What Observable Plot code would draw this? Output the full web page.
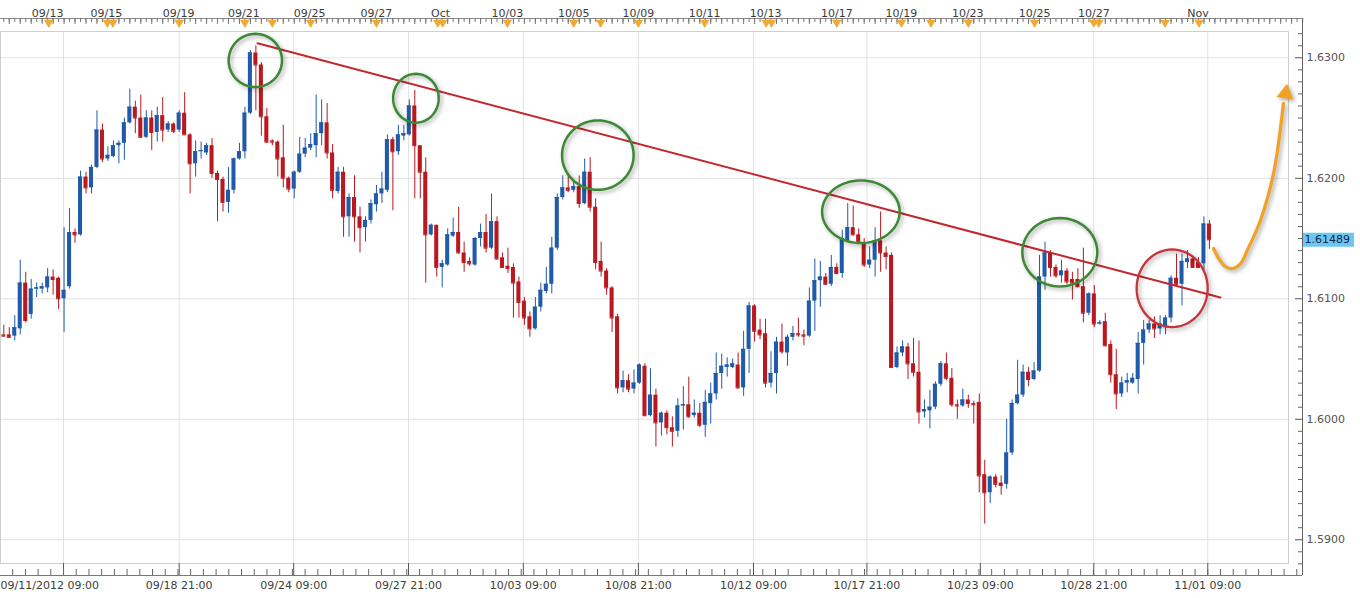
<!DOCTYPE html>
<html><head><meta charset="utf-8">
<script src="https://cdn.jsdelivr.net/npm/d3@7"></script>
<script src="https://cdn.jsdelivr.net/npm/@observablehq/plot@0.6"></script>
<style>
html,body{margin:0;padding:0;background:#fff;}
#chart svg{display:block;}
</style></head><body><div id="chart"></div>
<script>
// ---- DATA (4-hour GBP/USD candles, 09/11/2012 .. 11/01/2012) ----
const openP = [1.6070,1.6070,1.6069,1.6075,1.6113,1.6087,1.6108,1.6108,1.6109,1.6118,
1.6117,1.6100,1.6110,1.6155,1.6153,1.6201,1.6192,1.6209,1.6240,1.6216,
1.6218,1.6227,1.6229,1.6246,1.6259,1.6250,1.6234,1.6250,1.6238,1.6252,
1.6240,1.6245,1.6240,1.6254,1.6236,1.6212,1.6222,1.6221,1.6227,1.6204,
1.6199,1.6180,1.6190,1.6216,1.6222,1.6254,1.6304,1.6294,1.6251,1.6231,
1.6230,1.6217,1.6200,1.6191,1.6205,1.6220,1.6225,1.6227,1.6237,1.6246,
1.6221,1.6189,1.6205,1.6168,1.6184,1.6168,1.6159,1.6165,1.6178,1.6187,
1.6190,1.6232,1.6222,1.6235,1.6236,1.6260,1.6227,1.6205,1.6153,1.6161,
1.6126,1.6128,1.6152,1.6155,1.6138,1.6131,1.6128,1.6150,1.6155,1.6142,
1.6164,1.6134,1.6127,1.6126,1.6114,1.6098,1.6085,1.6075,1.6093,1.6106,
1.6112,1.6142,1.6184,1.6192,1.6190,1.6193,1.6179,1.6205,1.6176,1.6131,
1.6123,1.6109,1.6085,1.6026,1.6032,1.6025,1.6030,1.6044,1.6003,1.6020,
1.5997,1.6005,1.5993,1.5990,1.6011,1.6012,1.6003,1.6005,1.5995,1.6013,
1.6021,1.6038,1.6043,1.6043,1.6045,1.6026,1.6058,1.6094,1.6074,1.6071,
1.6030,1.6038,1.6064,1.6055,1.6068,1.6071,1.6070,1.6069,1.6098,1.6115,
1.6118,1.6112,1.6126,1.6121,1.6148,1.6159,1.6153,1.6146,1.6128,1.6132,
1.6148,1.6138,1.6136,1.6043,1.6055,1.6060,1.6046,1.6039,1.6006,1.6007,
1.6010,1.6029,1.6046,1.6034,1.6012,1.6011,1.6016,1.6013,1.6014,1.5954,
1.5939,1.5952,1.5947,1.5946,1.5972,1.6013,1.6020,1.6039,1.6033,1.6040,
1.6118,1.6138,1.6126,1.6119,1.6123,1.6116,1.6116,1.6110,1.6088,1.6104,
1.6079,1.6081,1.6062,1.6037,1.6021,1.6030,1.6030,1.6033,1.6063,1.6074,
1.6079,1.6075,1.6076,1.6084,1.6117,1.6112,1.6130,1.6133,1.6130,1.6129,
1.6162];
const highP = [1.6078,1.6076,1.6086,1.6132,1.6122,1.6116,1.6113,1.6113,1.6125,1.6124,
1.6118,1.6159,1.6175,1.6158,1.6206,1.6205,1.6211,1.6256,1.6245,1.6226,
1.6231,1.6231,1.6250,1.6274,1.6264,1.6269,1.6256,1.6256,1.6259,1.6267,
1.6247,1.6246,1.6256,1.6271,1.6237,1.6231,1.6230,1.6229,1.6233,1.6206,
1.6201,1.6209,1.6217,1.6229,1.6259,1.6306,1.6310,1.6296,1.6258,1.6232,
1.6231,1.6244,1.6201,1.6206,1.6234,1.6233,1.6237,1.6269,1.6265,1.6262,
1.6228,1.6209,1.6209,1.6187,1.6202,1.6176,1.6168,1.6182,1.6194,1.6205,
1.6236,1.6234,1.6244,1.6244,1.6265,1.6273,1.6227,1.6217,1.6162,1.6161,
1.6132,1.6158,1.6167,1.6176,1.6147,1.6134,1.6151,1.6162,1.6170,1.6187,
1.6168,1.6138,1.6142,1.6129,1.6118,1.6101,1.6089,1.6101,1.6113,1.6126,
1.6151,1.6187,1.6202,1.6202,1.6198,1.6202,1.6216,1.6217,1.6183,1.6147,
1.6125,1.6110,1.6087,1.6040,1.6037,1.6041,1.6046,1.6046,1.6042,1.6025,
1.6006,1.6007,1.6002,1.6017,1.6027,1.6035,1.6016,1.6013,1.6024,1.6030,
1.6055,1.6054,1.6051,1.6050,1.6055,1.6073,1.6097,1.6095,1.6083,1.6083,
1.6056,1.6068,1.6079,1.6070,1.6077,1.6084,1.6074,1.6109,1.6133,1.6131,
1.6121,1.6136,1.6129,1.6157,1.6179,1.6177,1.6158,1.6150,1.6143,1.6159,
1.6172,1.6143,1.6138,1.6060,1.6065,1.6063,1.6067,1.6065,1.6016,1.6024,
1.6031,1.6048,1.6055,1.6042,1.6016,1.6025,1.6020,1.6015,1.6021,1.5966,
1.5953,1.5954,1.5953,1.6000,1.6016,1.6049,1.6045,1.6043,1.6047,1.6136,
1.6147,1.6140,1.6128,1.6132,1.6125,1.6122,1.6125,1.6142,1.6105,1.6111,
1.6082,1.6088,1.6065,1.6058,1.6035,1.6038,1.6038,1.6072,1.6082,1.6082,
1.6085,1.6086,1.6086,1.6119,1.6137,1.6137,1.6140,1.6135,1.6134,1.6168,
1.6165];
const lowP = [1.6068,1.6067,1.6065,1.6070,1.6080,1.6083,1.6101,1.6104,1.6105,1.6103,
1.6091,1.6072,1.6108,1.6146,1.6152,1.6187,1.6187,1.6208,1.6213,1.6214,
1.6217,1.6212,1.6215,1.6245,1.6237,1.6233,1.6233,1.6223,1.6230,1.6230,
1.6238,1.6237,1.6238,1.6236,1.6187,1.6201,1.6216,1.6219,1.6200,1.6164,
1.6172,1.6171,1.6187,1.6215,1.6216,1.6253,1.6256,1.6235,1.6229,1.6227,
1.6201,1.6192,1.6188,1.6183,1.6204,1.6217,1.6223,1.6217,1.6227,1.6216,
1.6183,1.6187,1.6151,1.6151,1.6147,1.6138,1.6147,1.6162,1.6172,1.6179,
1.6188,1.6173,1.6219,1.6231,1.6235,1.6183,1.6183,1.6113,1.6152,1.6118,
1.6109,1.6127,1.6151,1.6137,1.6122,1.6127,1.6127,1.6143,1.6138,1.6141,
1.6132,1.6125,1.6121,1.6084,1.6084,1.6078,1.6068,1.6074,1.6089,1.6104,
1.6104,1.6140,1.6182,1.6188,1.6188,1.6175,1.6178,1.6172,1.6124,1.6118,
1.6103,1.6072,1.6021,1.6022,1.6022,1.6021,1.6029,1.6002,1.6002,1.5977,
1.5986,1.5987,1.5977,1.5985,1.5991,1.6001,1.6001,1.5993,1.5985,1.5996,
1.6016,1.6025,1.6035,1.6042,1.6025,1.6019,1.6038,1.6064,1.6066,1.6026,
1.6026,1.6021,1.6054,1.6044,1.6065,1.6068,1.6061,1.6068,1.6073,1.6093,
1.6111,1.6110,1.6120,1.6117,1.6147,1.6152,1.6146,1.6126,1.6125,1.6118,
1.6122,1.6124,1.6042,1.6042,1.6052,1.6033,1.6035,1.5996,1.6001,1.5992,
1.6008,1.6027,1.6032,1.6010,1.6000,1.6010,1.6009,1.5996,1.5939,1.5913,
1.5930,1.5943,1.5937,1.5942,1.5970,1.6012,1.6018,1.6027,1.6032,1.6039,
1.6107,1.6118,1.6117,1.6113,1.6112,1.6099,1.6109,1.6080,1.6086,1.6076,
1.6078,1.6060,1.6030,1.6008,1.6018,1.6022,1.6029,1.6021,1.6045,1.6071,
1.6067,1.6070,1.6070,1.6080,1.6110,1.6094,1.6125,1.6125,1.6125,1.6124,
1.6141];
const closeP = [1.6069,1.6068,1.6076,1.6113,1.6082,1.6108,1.6109,1.6110,1.6118,1.6116,
1.6100,1.6107,1.6155,1.6153,1.6201,1.6192,1.6209,1.6240,1.6216,1.6219,
1.6227,1.6229,1.6246,1.6259,1.6250,1.6234,1.6250,1.6238,1.6252,1.6240,
1.6245,1.6239,1.6254,1.6236,1.6212,1.6222,1.6223,1.6227,1.6204,1.6199,
1.6180,1.6190,1.6216,1.6222,1.6254,1.6304,1.6294,1.6251,1.6230,1.6230,
1.6216,1.6200,1.6191,1.6205,1.6220,1.6225,1.6228,1.6237,1.6246,1.6221,
1.6190,1.6205,1.6168,1.6184,1.6168,1.6159,1.6165,1.6179,1.6187,1.6191,
1.6232,1.6222,1.6236,1.6237,1.6260,1.6227,1.6205,1.6153,1.6161,1.6126,
1.6129,1.6153,1.6155,1.6138,1.6130,1.6129,1.6150,1.6155,1.6142,1.6164,
1.6133,1.6126,1.6125,1.6113,1.6097,1.6084,1.6075,1.6093,1.6107,1.6112,
1.6142,1.6184,1.6192,1.6190,1.6193,1.6179,1.6205,1.6176,1.6130,1.6123,
1.6109,1.6084,1.6026,1.6032,1.6025,1.6030,1.6045,1.6003,1.6020,1.5997,
1.6005,1.5993,1.5990,1.6011,1.6012,1.6002,1.6005,1.5995,1.6014,1.6021,
1.6038,1.6044,1.6045,1.6046,1.6026,1.6058,1.6094,1.6073,1.6070,1.6030,
1.6038,1.6064,1.6056,1.6068,1.6071,1.6070,1.6069,1.6098,1.6115,1.6118,
1.6112,1.6126,1.6121,1.6150,1.6159,1.6153,1.6147,1.6128,1.6132,1.6148,
1.6138,1.6135,1.6043,1.6055,1.6060,1.6046,1.6039,1.6006,1.6008,1.6010,
1.6029,1.6046,1.6034,1.6012,1.6011,1.6016,1.6013,1.6012,1.5953,1.5939,
1.5952,1.5946,1.5945,1.5972,1.6013,1.6020,1.6039,1.6033,1.6040,1.6118,
1.6138,1.6126,1.6119,1.6123,1.6114,1.6113,1.6110,1.6088,1.6104,1.6079,
1.6080,1.6061,1.6037,1.6021,1.6030,1.6032,1.6034,1.6063,1.6074,1.6079,
1.6075,1.6079,1.6084,1.6117,1.6112,1.6131,1.6133,1.6126,1.6126,1.6162,
1.6149];

const lastPrice = 1.61489;
const yMajor = [1.59, 1.60, 1.61, 1.62, 1.63];

const startLabel = "09/11/2012 09:00";
const bottomTickIdx = [10.9, 32.0, 52.9, 73.85, 94.8, 115.8, 136.8, 157.5, 178.2, 198.9, 219.7];
const bottomTickLabel = ["", "09/18 21:00", "09/24 09:00", "09/27 21:00", "10/03 09:00", "10/08 21:00",
  "10/12 09:00", "10/17 21:00", "10/23 09:00", "10/28 21:00", "11/01 09:00"];

const topLabelIdx = [8.0, 18.7, 31.9, 43.8, 55.8, 68.0, 79.7, 91.9, 104.0, 115.8, 127.9, 139.0, 152.0, 163.8, 175.9, 188.1, 198.9, 217.9];
const topLabel = ["09/13","09/15","09/19","09/21","09/25","09/27","Oct","10/03","10/05","10/09","10/11","10/13","10/17","10/19","10/23","10/25","10/27","Nov"];
const eventIdx = [8.2, 18.9, 19.9, 32.0, 44.0, 49.0, 56.0, 68.0, 79.2, 80.1, 91.9, 104.0, 108.9, 115.8, 127.9, 139.1, 140.1, 152.0, 163.8, 169.2, 176.0, 188.1, 198.9, 199.8, 211.9, 218.1];

// annotations
const trendIdx = [46.3, 222.0];
const trendVal = [1.6312, 1.6101];
const ellipseIdx = [45.9, 75.2, 108.4, 156.4, 192.7, 213.2];
const ellipseVal = [1.62978, 1.62664, 1.62192, 1.61722, 1.61386, 1.61087];
const ellipseRx  = [4.87, 4.16, 6.53, 7.08, 6.84, 6.48];
const ellipseRy  = [0.00221, 0.00203, 0.00288, 0.00260, 0.00284, 0.00322];
const ellipseKind = ["green","green","green","green","green","red"];
const arrowIdx = [220.75, 221.7, 222.9, 224.2, 225.7, 226.9, 229.3, 231.7, 233.5];
const arrowVal = [1.61417, 1.61334, 1.61268, 1.61251, 1.61293, 1.61401, 1.61650, 1.62040, 1.62620];
const arrowHead = {x: 233.9, y: 1.62704};

// ---- CHART ----
const xDomain = [-0.602, 234.43];
const yDomain = [1.58803, 1.63218];
const BLUE = "#1f5ba9", RED = "#b8181e";

const candles = openP.map((o, i) => {
  const c = closeP[i];
  return {i, open: o, close: c, high: Math.max(highP[i], o, c), low: Math.min(lowP[i], o, c), color: c >= o ? BLUE : RED};
});

const yMinor = d3.range(1588, 1633).map(v => v / 1000).filter(v => !yMajor.some(m => Math.abs(m - v) < 1e-9));
const minorStep = (bottomTickIdx[bottomTickIdx.length-1] - bottomTickIdx[0]) / ((bottomTickIdx.length-1) * 9);
const bottomMinor = d3.range(-5, 120).map(k => bottomTickIdx[0] + k * minorStep).filter(v => v > xDomain[0] && v < 237);
const rulerTicks = d3.range(0, 238);

const ellipseGreen = [], ellipseRed = [];
ellipseIdx.forEach((cx, k) => {
  const target = ellipseKind[k] === "red" ? ellipseRed : ellipseGreen;
  for (let t = 0; t <= 72; t++) {
    const a = t / 72 * 2 * Math.PI;
    target.push({k, x: cx + ellipseRx[k] * Math.cos(a), y: ellipseVal[k] + ellipseRy[k] * Math.sin(a)});
  }
});
const arrowPts = arrowIdx.map((x, i) => ({x, y: arrowVal[i]}));
const trendPts = trendIdx.map((x, i) => ({x, y: trendVal[i]}));

const W = 1360, H = 598;
const BW = 0.37;
const plot = Plot.plot({
  width: W, height: H,
  marginLeft: 0, marginRight: 72, marginTop: 31, marginBottom: 35,
  x: {domain: xDomain, axis: null},
  y: {domain: yDomain, axis: null},
  style: {fontFamily: "'DejaVu Sans', Verdana, sans-serif", fontSize: "11px", background: "#fff", overflow: "visible"},
  marks: [
    // grid
    Plot.ruleY(yMajor, {stroke: "#e2e2e2"}),
    Plot.ruleX(bottomTickIdx, {stroke: "#e2e2e2"}),
    Plot.frame({stroke: "#cfcfcf"}),
    // top ruler
    Plot.ruleY([yDomain[1]], {dy: -13, insetRight: -14, stroke: "#8a8a8a"}),
    Plot.ruleX(rulerTicks, {insetTop: -13, insetBottom: 541, stroke: "#777"}),
    Plot.ruleX(rulerTicks.filter(d => d % 2 === 1), {insetTop: -13, insetBottom: 539, stroke: "#777"}),
    Plot.text(topLabel, {x: (d, i) => topLabelIdx[i], text: d => d, frameAnchor: "top", dy: -22, fill: "#3c3c3c"}),
    Plot.dot(eventIdx, {x: d => d, frameAnchor: "top", dy: -9, symbol: "triangle", rotate: 180, r: 3.6, fill: "#eeaa35", stroke: "none"}),
    // bottom axis
    Plot.ruleY([yDomain[0]], {dy: 12, insetRight: -14, stroke: "#777"}),
    Plot.ruleX(bottomTickIdx, {insetTop: 532, insetBottom: -12, stroke: "#555"}),
    Plot.ruleX(bottomMinor, {insetTop: 538, insetBottom: -12, stroke: "#666"}),
    Plot.text(bottomTickLabel, {x: (d, i) => bottomTickIdx[i], text: d => d, frameAnchor: "bottom", dy: 25, fill: "#3c3c3c"}),
    Plot.text([startLabel], {x: () => xDomain[0], text: d => d, frameAnchor: "bottom", dy: 25, textAnchor: "start", fill: "#3c3c3c"}),
    // right axis
    Plot.ruleX([xDomain[1]], {dx: 14, insetTop: -13, insetBottom: -12, stroke: "#666"}),
    Plot.ruleY(yMinor, {insetLeft: 1298, insetRight: -14, stroke: "#666"}),
    Plot.ruleY(yMajor, {insetLeft: 1295, insetRight: -14, stroke: "#555"}),
    Plot.text(yMajor, {y: d => d, text: d => d.toFixed(4), frameAnchor: "right", dx: 18, textAnchor: "start", fill: "#555"}),
    Plot.ruleY([lastPrice], {insetLeft: 1303, insetRight: -66, stroke: "#6cc6ef", strokeWidth: 14}),
    Plot.text([lastPrice], {y: d => d, text: d => d.toFixed(5), frameAnchor: "right", dx: 16, textAnchor: "start", fill: "#12284a"}),
    // candles
    Plot.ruleX(candles, {x: "i", y1: "low", y2: "high", stroke: "color", strokeWidth: 1}),
    Plot.rect(candles, {x1: d => d.i - BW, x2: d => d.i + BW, y1: d => Math.min(d.open, d.close), y2: d => Math.max(d.open, d.close), fill: "color"}),
    Plot.ruleY(candles, {y: "close", x1: d => d.i - BW, x2: d => d.i + BW, stroke: "color"}),
    // annotations
    Plot.line(trendPts, {x: "x", y: "y", stroke: "#c3262c", strokeWidth: 2}),
    Plot.line(ellipseGreen, {x: "x", y: "y", z: "k", stroke: "#3b8a33", strokeWidth: 2.5}),
    Plot.line(ellipseRed, {x: "x", y: "y", z: "k", stroke: "#c7343a", strokeWidth: 2.3}),
    Plot.line(arrowPts, {x: "x", y: "y", curve: "catmull-rom", stroke: "#f1a224", strokeWidth: 3.2, strokeLinecap: "round"}),
    Plot.dot([arrowHead], {x: "x", y: "y", symbol: "triangle", r: 6.3, fill: "#f1a224", stroke: "none", rotate: 8})
  ]
});
document.getElementById("chart").appendChild(plot);
const lineGroups = plot.querySelectorAll('g[aria-label="line"]');
for (let k = 1; k < lineGroups.length; k++) lineGroups[k].style.filter = "drop-shadow(2px 2px 2px rgba(0,0,0,0.35))";
const dotGroups = plot.querySelectorAll('g[aria-label="dot"]');
if (dotGroups.length) dotGroups[dotGroups.length - 1].style.filter = "drop-shadow(2px 2px 2px rgba(0,0,0,0.35))";
</script></body></html>
